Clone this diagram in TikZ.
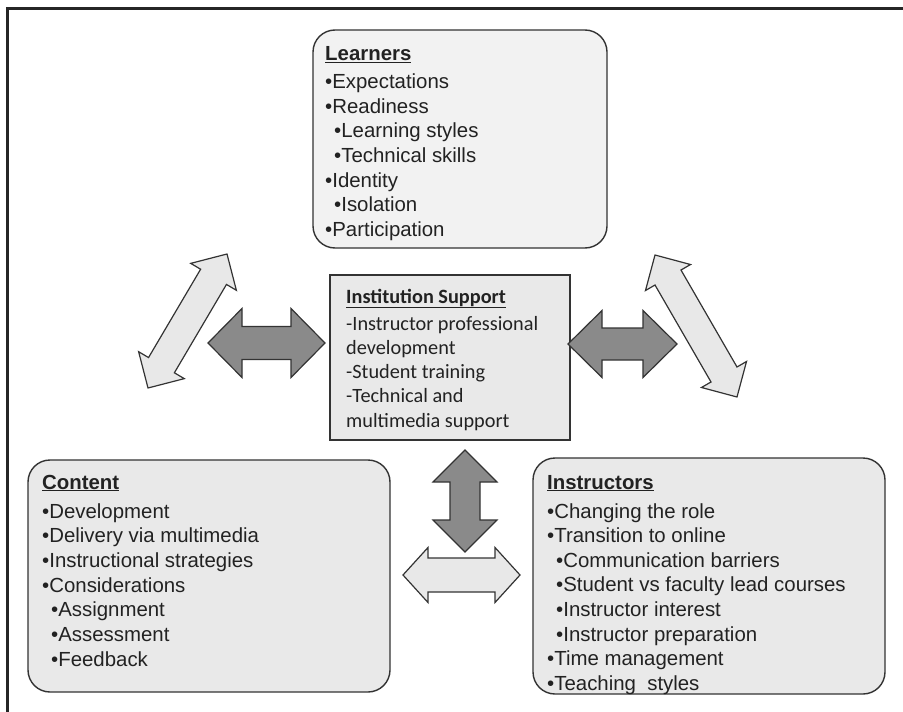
\documentclass[tikz,border=0pt]{standalone}
\usepackage{fontspec}
\setmainfont{Liberation Sans}
\newfontfamily\carlito{Carlito}
\usetikzlibrary{calc}
\definecolor{edge}{HTML}{333333}
\definecolor{lightfill}{HTML}{E8E8E8}
\definecolor{darkfill}{HTML}{8A8A8A}
\definecolor{boxA}{HTML}{F2F2F2}
\definecolor{boxB}{HTML}{E9E9E9}
\definecolor{ink}{HTML}{222222}
\newcommand\blockarrow[6]{%
 \coordinate (ba1) at ($(#1)!#3!(#2)$);
 \coordinate (ba2) at ($(#2)!#3!(#1)$);
 \draw[#6] (#1) -- ($(ba1)!#4!90:(#2)$) -- ($(ba1)!#5!90:(#2)$) -- ($(ba2)!#5!-90:(#1)$) -- ($(ba2)!#4!-90:(#1)$) -- (#2) -- ($(ba2)!#4!90:(#1)$) -- ($(ba2)!#5!90:(#1)$) -- ($(ba1)!#5!-90:(#2)$) -- ($(ba1)!#4!-90:(#2)$) -- cycle;}
\newcommand\sub{\hspace*{9pt}}
\begin{document}
\begin{tikzpicture}[x=1pt,y=-1pt,
  txt/.style={anchor=base west,inner sep=0pt,text=ink,font=\fontsize{20.4}{24}\selectfont},
  itxt/.style={anchor=base west,inner sep=0pt,text=ink,font=\carlito\fontsize{20.3}{24}\selectfont},
  rbox/.style={draw=edge,line width=1.4pt,rounded corners=22pt},
  lightarrow/.style={draw=edge,line width=1.2pt,fill=lightfill,line join=miter},
  darkarrow/.style={draw=edge,line width=1.2pt,fill=darkfill,line join=miter}]
\useasboundingbox (0,0) rectangle (903,712);
% frame
\draw[line width=3pt,color=black!85] (7,712) -- (7,8) -- (903,8);
% boxes
\draw[rbox,fill=boxA] (313,30) rectangle (607,248);
\draw[draw=edge,line width=2pt,fill=boxB] (330,275) rectangle (570,440);
\draw[rbox,fill=boxB] (28,460) rectangle (390,692);
\draw[rbox,fill=boxB] (533,458) rectangle (885,694);
% Learners
\node[txt] (Lt) at (325,60.5) {\underline{\textbf{Learners}}};
\foreach \t [count=\i from 0] in {{\textbullet Expectations},{\textbullet Readiness},{\sub\textbullet Learning styles},{\sub\textbullet Technical skills},{\textbullet Identity},{\sub\textbullet Isolation},{\textbullet Participation}}
  \node[txt] (L\i) at (325,{88.3+24.7*\i}) {\t};
% Institution
\node[itxt] (It) at (346,303) {\underline{\textbf{Institution Support}}};
\foreach \t [count=\i from 0] in {{-Instructor professional},{development},{-Student training},{-Technical and},{multimedia support}}
  \node[itxt] (I\i) at (346,{330+24.3*\i}) {\t};
% Content
\node[txt] (Ct) at (42,489) {\underline{\textbf{Content}}};
\foreach \t [count=\i from 0] in {{\textbullet Development},{\textbullet Delivery via multimedia},{\textbullet Instructional strategies},{\textbullet Considerations},{\sub\textbullet Assignment},{\sub\textbullet Assessment},{\sub\textbullet Feedback}}
  \node[txt] (C\i) at (42,{518+24.7*\i}) {\t};
% Instructors
\node[txt] (Nt) at (547,489) {\underline{\textbf{Instructors}}};
\foreach \t [count=\i from 0] in {{\textbullet Changing the role},{\textbullet Transition to online},{\sub\textbullet Communication barriers},{\sub\textbullet Student vs faculty lead courses},{\sub\textbullet Instructor interest},{\sub\textbullet Instructor preparation},{\textbullet Time management},{\textbullet Teaching\ \ styles}}
  \node[txt] (N\i) at (547,{518+24.6*\i}) {\t};
% arrow end points
\coordinate (a1) at (208,343); \coordinate (b1) at (325,343);
\coordinate (a2) at (568,344); \coordinate (b2) at (677,344);
\coordinate (a3) at (465,450); \coordinate (b3) at (465,552);
\coordinate (a4) at (403,575); \coordinate (b4) at (520,575);
\coordinate (a5) at (148,388); \coordinate (b5) at (227,254);
\coordinate (a6) at (655,255); \coordinate (b6) at (737,397);
\blockarrow{a1}{b1}{34pt}{34.5pt}{16.5pt}{darkarrow}
\blockarrow{a2}{b2}{34pt}{33.5pt}{16pt}{darkarrow}
\blockarrow{a3}{b3}{32pt}{32pt}{15pt}{darkarrow}
\blockarrow{a4}{b4}{25pt}{27.5pt}{17pt}{lightarrow}
\blockarrow{a5}{b5}{26.5pt}{26.5pt}{15pt}{lightarrow}
\blockarrow{a6}{b6}{26pt}{26pt}{15pt}{lightarrow}
\end{tikzpicture}
\end{document}
